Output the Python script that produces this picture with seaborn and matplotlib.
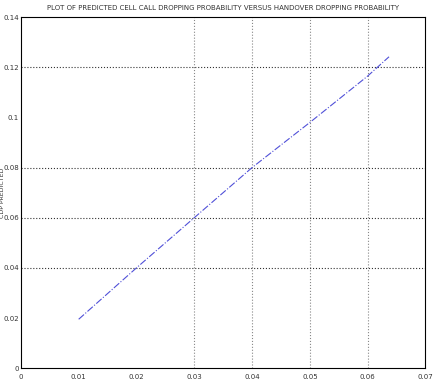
import matplotlib
matplotlib.use("Agg")
import matplotlib.pyplot as plt
import seaborn as sns
import pandas as pd

# Data
hdp = [0.01, 0.02, 0.03, 0.04, 0.05, 0.06, 0.0637]
cdp_predicted = [0.0195, 0.040, 0.060, 0.080, 0.098, 0.1165, 0.1242]
xticks = [0, 0.01, 0.02, 0.03, 0.04, 0.05, 0.06, 0.07]
xticklabels = ["0", "0.01", "0.02", "0.03", "0.04", "0.05", "0.06", "0.07"]
yticks = [0, 0.02, 0.04, 0.06, 0.08, 0.1, 0.12, 0.14]
yticklabels = ["0", "0.02", "0.04", "0.06", "0.08", "0.1", "0.12", "0.14"]
title = "PLOT OF PREDICTED CELL CALL DROPPING PROBABILITY VERSUS HANDOVER DROPPING PROBABILITY"
ylabel = "CDP PREDICTED"

sns.set_style("white")
plt.rcParams['font.family'] = ['Liberation Sans Narrow', 'DejaVu Sans']

df = pd.DataFrame({"hdp": hdp, "cdp": cdp_predicted})

fig = plt.figure(figsize=(4.35, 3.9), dpi=100)
ax = fig.add_axes([0.048, 0.056, 0.930, 0.9])

sns.lineplot(data=df, x="hdp", y="cdp", ax=ax, color="#5050d8",
             linewidth=0.8, linestyle="-.")

ax.set_xlim(0, 0.07)
ax.set_ylim(0, 0.14)
ax.set_xticks(xticks)
ax.set_xticklabels(xticklabels)
ax.set_yticks(yticks)
ax.set_yticklabels(yticklabels)
ax.tick_params(direction="in", length=2, labelsize=5, colors="#333333", pad=1.5)
ax.tick_params(axis="x", pad=4)

ax.grid(True, linestyle=":", linewidth=0.8, color="#555555")
# hide grid lines that are not visible in the reference
for i, gl in enumerate(ax.xaxis.get_gridlines()):
    if i not in (3, 4, 5, 6):
        gl.set_visible(False)
    else:
        gl.set_color("#888888")
for i, gl in enumerate(ax.yaxis.get_gridlines()):
    if i not in (2, 3, 4, 6):
        gl.set_visible(False)
    else:
        gl.set_color("#333333")

for s in ax.spines.values():
    s.set_visible(True)
    s.set_color("black")
    s.set_linewidth(0.8)

ax.set_xlabel("")
ax.set_ylabel(ylabel, fontsize=4.5, color="#333333")
ax.yaxis.set_label_coords(-0.04, 0.5)
ax.set_title(title, fontsize=5, color="#333333", pad=5)

fig.savefig("out.png", dpi=100)
